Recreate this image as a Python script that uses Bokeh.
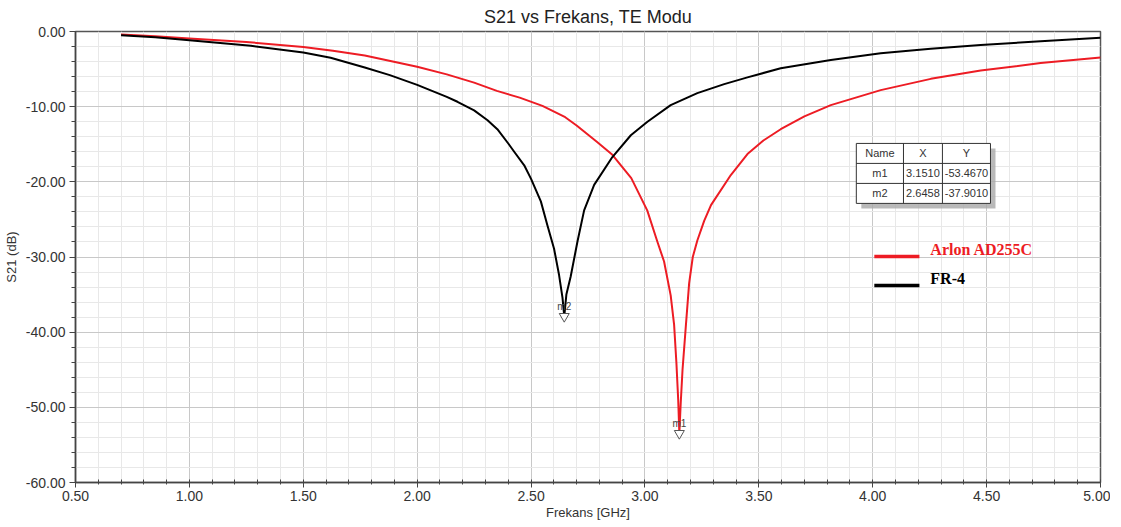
from bokeh.plotting import figure
from bokeh.models import SingleIntervalTicker, NumeralTickFormatter, ColumnDataSource
from bokeh.core.properties import value
from bokeh.embed import file_html
from bokeh.resources import INLINE

# ---------------- data ----------------
fr4_freq = [0.70, 0.85, 1.00, 1.27, 1.50, 1.62, 1.77, 1.88, 2.00, 2.13, 2.177, 2.25,
            2.309, 2.352, 2.40, 2.426, 2.47, 2.50, 2.543, 2.572, 2.601, 2.623, 2.638,
            2.6458, 2.655, 2.674, 2.704, 2.733, 2.777, 2.857, 2.938, 3.011, 3.113,
            3.23, 3.348, 3.45, 3.596, 3.816, 4.035, 4.255, 4.474, 4.737, 5.00]
fr4_db = [-0.50, -0.75, -1.15, -1.9, -2.8, -3.5, -4.8, -5.8, -7.1, -8.7, -9.35, -10.5,
          -11.8, -13.0, -14.9, -16.0, -17.8, -19.6, -22.6, -25.8, -28.9, -32.4, -35.4,
          -37.901, -35.0, -32.6, -27.9, -23.8, -20.4, -16.7, -13.8, -12.0, -9.8,
          -8.2, -7.0, -6.1, -4.9, -3.8, -2.9, -2.3, -1.8, -1.3, -0.84]

arlon_freq = [0.70, 0.85, 1.00, 1.25, 1.50, 1.63, 1.77, 2.00, 2.13, 2.25, 2.35, 2.45,
              2.55, 2.65, 2.70, 2.79, 2.857, 2.94, 3.01, 3.055, 3.084, 3.113, 3.128,
              3.138, 3.146, 3.151, 3.157, 3.165, 3.18, 3.194, 3.21, 3.23, 3.26, 3.29,
              3.377, 3.45, 3.52, 3.596, 3.70, 3.816, 4.035, 4.255, 4.474, 4.737, 5.00]
arlon_db = [-0.40, -0.62, -0.93, -1.40, -2.05, -2.55, -3.2, -4.70, -5.7, -6.8, -7.9, -8.8,
            -9.9, -11.4, -12.5, -14.7, -16.4, -19.5, -23.8, -28.0, -30.6, -35.1, -39.0,
            -44.0, -49.0, -53.467, -49.5, -45.0, -39.0, -33.5, -30.0, -27.8, -25.2, -23.1,
            -19.1, -16.3, -14.5, -13.0, -11.3, -9.8, -7.8, -6.3, -5.2, -4.2, -3.46]

marker_names = ["m1", "m2"]
marker_x = [3.1510, 2.6458]
marker_y = [-53.4670, -37.9010]

series_names = ["Arlon AD255C", "FR-4"]
series_colors = ["#ed1c24", "#000000"]

x_start, x_end = 0.5, 5.0
y_start, y_end = -60.0, 0.0

FONT = "Liberation Sans"

p = figure(frame_width=1025, frame_height=451, output_backend="svg", toolbar_location=None,
           x_range=(x_start, x_end), y_range=(y_start, y_end),
           min_border_left=70, min_border_right=10, min_border_top=25, min_border_bottom=0,
           title="S21 vs Frekans, TE Modu")

p.title.align = "center"
p.title.text_font = FONT
p.title.text_font_style = "normal"
p.title.text_font_size = "18px"
p.title.text_color = "#222222"
p.title.standoff = 9

p.background_fill_color = "white"
p.border_fill_color = "white"
p.outline_line_color = "#555555"
p.outline_line_width = 1.5

p.xaxis.ticker = SingleIntervalTicker(interval=0.5, num_minor_ticks=5)
p.yaxis.ticker = SingleIntervalTicker(interval=10, num_minor_ticks=5)
for ax in (p.xaxis, p.yaxis):
    ax.formatter = NumeralTickFormatter(format="0.00")
    ax.major_label_text_font = FONT
    ax.major_label_text_font_size = "14px"
    ax.major_label_text_color = "#333333"
    ax.axis_line_color = "#444444"
    ax.axis_line_width = 1.5
    ax.major_tick_line_color = "#444444"
    ax.minor_tick_line_color = "#444444"
    ax.axis_label_text_font = FONT
    ax.axis_label_text_font_style = "normal"
    ax.axis_label_text_font_size = "13px"
    ax.axis_label_text_color = "#333333"

p.xaxis.major_tick_out = 5
p.xaxis.major_tick_in = 0
p.xaxis.minor_tick_out = 2
p.xaxis.minor_tick_in = 3
p.yaxis.major_tick_out = 6
p.yaxis.major_tick_in = 0
p.yaxis.minor_tick_out = 4
p.yaxis.minor_tick_in = 0
p.xaxis.major_label_standoff = 3
p.yaxis.major_label_standoff = 4
p.xaxis.axis_label = "Frekans [GHz]"
p.yaxis.axis_label = "S21 (dB)"
p.xaxis.axis_label_standoff = 1
p.yaxis.axis_label_standoff = 4

for g in (p.xgrid, p.ygrid):
    g.grid_line_color = "#c8c8c8"
    g.grid_line_width = 1
    g.minor_grid_line_color = "#e8e8e8"
    g.minor_grid_line_width = 1

# curves
p.line(arlon_freq, arlon_db, line_color=series_colors[0], line_width=2, line_join="round")
p.line(fr4_freq, fr4_db, line_color=series_colors[1], line_width=2, line_join="round")

# markers
msrc = ColumnDataSource(dict(x=marker_x, y=marker_y, name=marker_names))
p.scatter("x", "y", source=msrc, marker="inverted_triangle", size=10,
          fill_color="white", line_color="#555555", line_width=1)
p.text("x", "y", text="name", source=msrc, text_font=value(FONT), text_font_size="10px",
       text_color="#444444", text_align="center", text_baseline="bottom", y_offset=-4)

# marker table (data-coordinate layout)
tl, tr, tc1, tc2 = 3.928, 4.517, 4.135, 4.306
tt, tr1, tr2, tb = -14.89, -17.55, -20.21, -22.87
p.quad(left=[tl + 0.022], right=[tr + 0.022], top=[tt - 0.665], bottom=[tb - 0.665],
       fill_color="#a8a8a8", fill_alpha=0.8, line_color=None)
p.quad(left=[tl], right=[tr], top=[tt], bottom=[tb], fill_color="white",
       line_color="#333333", line_width=1)
p.segment(x0=[tl, tl, tc1, tc2], y0=[tr1, tr2, tt, tt],
          x1=[tr, tr, tc1, tc2], y1=[tr1, tr2, tb, tb], line_color="#333333", line_width=1)
col_x = [(tl + tc1) / 2, (tc1 + tc2) / 2, (tc2 + tr) / 2]
row_y = [(tt + tr1) / 2, (tr1 + tr2) / 2, (tr2 + tb) / 2]
cells_x, cells_y, cells_t = [], [], []
for cx, t in zip(col_x, ["Name", "X", "Y"]):
    cells_x.append(cx); cells_y.append(row_y[0]); cells_t.append(t)
for ry, n, mx, my in zip(row_y[1:], marker_names, marker_x, marker_y):
    for cx, t in zip(col_x, [n, f"{mx:.4f}", f"{my:.4f}"]):
        cells_x.append(cx); cells_y.append(ry); cells_t.append(t)
p.text(cells_x, cells_y, text=cells_t, text_font=value(FONT), text_font_size="11px",
       text_color="#333333", text_align="center", text_baseline="middle")

# custom legend
lg_x0, lg_x1, lg_tx = 4.007, 4.205, 4.253
lg_y = [-29.92, -33.78]
p.segment(x0=[lg_x0] * 2, y0=lg_y, x1=[lg_x1] * 2, y1=lg_y,
          line_color=series_colors, line_width=3.5)
p.text([lg_tx] * 2, [y + 0.9 for y in lg_y], text=series_names,
       text_font=value("Liberation Serif"), text_font_style="bold",
       text_font_size="16px", text_color=series_colors, text_baseline="middle")

open("out.html", "w").write(file_html(p, INLINE))
